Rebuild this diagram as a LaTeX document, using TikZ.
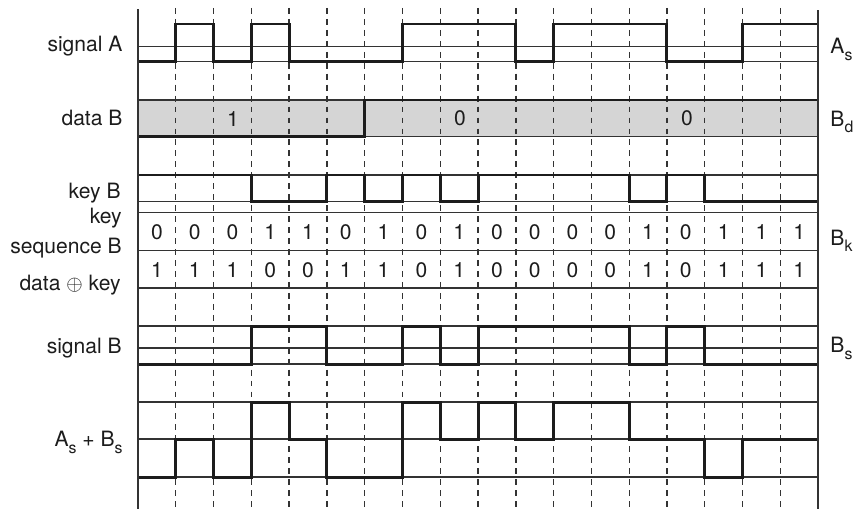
\documentclass[tikz,border=0pt]{standalone}
\usepackage{fontspec}
\setmainfont{TeX Gyre Heros}
\definecolor{ink}{HTML}{1C1C1C}
\definecolor{rule}{HTML}{333333}
\definecolor{tick}{HTML}{333333}
\definecolor{band}{HTML}{D5D5D5}
\newcommand{\lowidx}[1]{\raisebox{-3.2pt}{\fontsize{7.5}{8}\selectfont #1}}
\tikzset{
  % ---- frame and grid --------------------------------------------
  axis/.style       = {draw=rule, line width=.75pt},
  refline/.style    = {draw=rule, line width=.55pt},
  slot/.style       = {draw=tick, line width=.65pt,
                       dash pattern=on 2.8pt off 2.4pt},
  databand/.style   = {fill=band},
  % ---- waveforms -------------------------------------------------
  wave/.style       = {draw=ink, line width=1.4pt, line join=miter},
  % ---- texts -----------------------------------------------------
  lbl/.style        = {font=\fontsize{10}{12}\selectfont, text=ink,
                       inner sep=0pt, anchor=base east},
  tag/.style        = {font=\fontsize{10}{12}\selectfont, text=ink,
                       inner sep=0pt, anchor=base west},
  bit/.style        = {font=\fontsize{10}{12}\selectfont, text=ink,
                       inner sep=0pt},
}
\begin{document}
\begin{tikzpicture}[x=0.63cm, y=0.63cm]
  \useasboundingbox (-3.653,0) rectangle (19.03,-13.473);
  \fill[databand] (0,-2.647) rectangle (18,-3.618);
  \draw[slot] (1,-0.21) -- (1,-13.473);
  \draw[slot] (2,-0.21) -- (2,-13.473);
  \draw[slot] (3,-0.21) -- (3,-13.473);
  \draw[slot] (4,-0.21) -- (4,-13.473);
  \draw[slot] (5,-0.21) -- (5,-13.473);
  \draw[slot] (6,-0.21) -- (6,-13.473);
  \draw[slot] (7,-0.21) -- (7,-13.473);
  \draw[slot] (8,-0.21) -- (8,-13.473);
  \draw[slot] (9,-0.21) -- (9,-13.473);
  \draw[slot] (10,-0.21) -- (10,-13.473);
  \draw[slot] (11,-0.21) -- (11,-13.473);
  \draw[slot] (12,-0.21) -- (12,-13.473);
  \draw[slot] (13,-0.21) -- (13,-13.473);
  \draw[slot] (14,-0.21) -- (14,-13.473);
  \draw[slot] (15,-0.21) -- (15,-13.473);
  \draw[slot] (16,-0.21) -- (16,-13.473);
  \draw[slot] (17,-0.21) -- (17,-13.473);
  % reference lines of every row
  \draw[refline] (0,-1.236) -- (18,-1.236);
  \draw[refline] (0,-1.623) -- (18,-1.623);
  \draw[refline] (0,-2.647) -- (18,-2.647);
  \draw[refline] (0,-3.618) -- (18,-3.618);
  \draw[refline] (0,-4.632) -- (18,-4.632);
  \draw[refline] (0,-5.328) -- (18,-5.328);
  \draw[refline] (0,-5.630) -- (18,-5.630);
  \draw[refline] (0,-6.636) -- (18,-6.636);
  \draw[refline] (0,-7.623) -- (18,-7.623);
  \draw[refline] (0,-8.629) -- (18,-8.629);
  \draw[refline] (0,-9.211) -- (18,-9.211);
  \draw[refline] (0,-9.635) -- (18,-9.635);
  \draw[refline] (0,-10.641) -- (18,-10.641);
  \draw[refline] (0,-11.620) -- (18,-11.620);
  \draw[refline] (0,-12.626) -- (18,-12.626);
  % waveforms
  \draw[wave] (0,-1.623) -| (1,-0.635) -| (2,-1.623) -| (3,-0.635) -| (4,-1.623)
    -| (7,-0.635) -| (10,-1.623) -| (11,-0.635) -| (14,-1.623) -| (16,-0.635) -- (18,-0.635);
  \draw[wave] (0,-3.618) -| (6,-2.647) -- (18,-2.647);
  \draw[wave] (0,-4.632) -| (3,-5.328) -| (5,-4.632) -| (6,-5.328) -| (7,-4.632)
    -| (8,-5.328) -| (9,-4.632) -| (13,-5.328) -| (14,-4.632) -| (15,-5.328) -- (18,-5.328);
  \draw[wave] (0,-9.635) -| (3,-8.629) -| (5,-9.635) -| (7,-8.629) -| (8,-9.635)
    -| (9,-8.629) -| (13,-9.635) -| (14,-8.629) -| (15,-9.635) -- (18,-9.635);
  \draw[wave] (0,-12.626) -| (1,-11.620) -| (2,-12.626) -| (3,-10.641) -| (4,-11.620)
    -| (5,-12.626) -| (7,-10.641) -| (8,-11.620) -| (9,-10.641) -| (10,-11.620)
    -| (11,-10.641) -| (13,-11.620) -| (15,-12.626) -| (16,-11.620) -- (18,-11.620);
  \draw[axis] (0,-0.24) -- (0,-13.473);
  \draw[axis] (18,-0.265) -- (18,-13.473);
  % row names
  \node[lbl] (nSigA) at (-0.40,-1.376) {signal A};
  \node[lbl] (nDataB) at (-0.40,-3.322) {data B};
  \node[lbl] (nKeyB) at (-0.45,-5.241) {key B};
  \node[lbl] (nKey) at (-0.42,-5.915) {key};
  \node[lbl] (nSeqB) at (-0.42,-6.697) {sequence B};
  \node[lbl] (nXor) at (-0.45,-7.700) {data $\oplus$ key};
  \node[lbl] (nSigB) at (-0.42,-9.344) {signal B};
  \node[lbl] (nSum) at (-0.40,-11.820) {A\lowidx{s} + B\lowidx{s}};
  \node[tag] (tAs) at (18.317,-1.411) {A\lowidx{s}};
  \node[tag] (tBd) at (18.317,-3.335) {B\lowidx{d}};
  \node[tag] (tBk) at (18.317,-6.485) {B\lowidx{k}};
  \node[tag] (tBs) at (18.317,-9.335) {B\lowidx{s}};
  % data bits
  \node[bit] (d0) at (2.515,-3.137) {1};
  \node[bit] (d1) at (8.523,-3.137) {0};
  \node[bit] (d2) at (14.532,-3.137) {0};
  % key sequence
  \node[bit] (k0) at (0.5,-6.133) {0};
  \node[bit] (k1) at (1.5,-6.133) {0};
  \node[bit] (k2) at (2.5,-6.133) {0};
  \node[bit] (k3) at (3.5,-6.133) {1};
  \node[bit] (k4) at (4.5,-6.133) {1};
  \node[bit] (k5) at (5.5,-6.133) {0};
  \node[bit] (k6) at (6.5,-6.133) {1};
  \node[bit] (k7) at (7.5,-6.133) {0};
  \node[bit] (k8) at (8.5,-6.133) {1};
  \node[bit] (k9) at (9.5,-6.133) {0};
  \node[bit] (k10) at (10.5,-6.133) {0};
  \node[bit] (k11) at (11.5,-6.133) {0};
  \node[bit] (k12) at (12.5,-6.133) {0};
  \node[bit] (k13) at (13.5,-6.133) {1};
  \node[bit] (k14) at (14.5,-6.133) {0};
  \node[bit] (k15) at (15.5,-6.133) {1};
  \node[bit] (k16) at (16.5,-6.133) {1};
  \node[bit] (k17) at (17.5,-6.133) {1};
  % data xor key
  \node[bit] (x0) at (0.5,-7.147) {1};
  \node[bit] (x1) at (1.5,-7.147) {1};
  \node[bit] (x2) at (2.5,-7.147) {1};
  \node[bit] (x3) at (3.5,-7.147) {0};
  \node[bit] (x4) at (4.5,-7.147) {0};
  \node[bit] (x5) at (5.5,-7.147) {1};
  \node[bit] (x6) at (6.5,-7.147) {1};
  \node[bit] (x7) at (7.5,-7.147) {0};
  \node[bit] (x8) at (8.5,-7.147) {1};
  \node[bit] (x9) at (9.5,-7.147) {0};
  \node[bit] (x10) at (10.5,-7.147) {0};
  \node[bit] (x11) at (11.5,-7.147) {0};
  \node[bit] (x12) at (12.5,-7.147) {0};
  \node[bit] (x13) at (13.5,-7.147) {1};
  \node[bit] (x14) at (14.5,-7.147) {0};
  \node[bit] (x15) at (15.5,-7.147) {1};
  \node[bit] (x16) at (16.5,-7.147) {1};
  \node[bit] (x17) at (17.5,-7.147) {1};
\end{tikzpicture}
\end{document}
